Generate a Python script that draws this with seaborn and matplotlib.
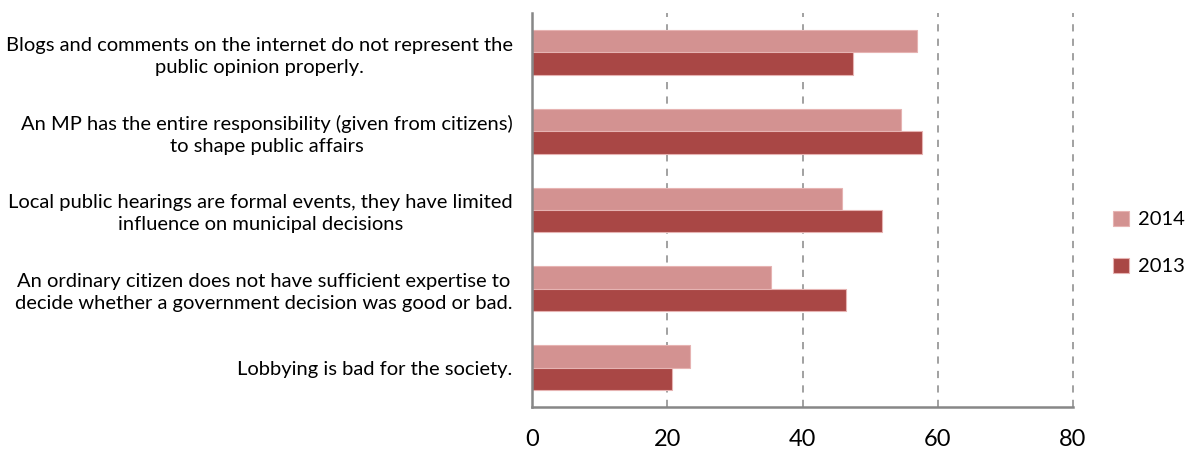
import matplotlib
matplotlib.use("Agg")
import matplotlib.pyplot as plt
import seaborn as sns
import pandas as pd

# Survey statements and share of respondents agreeing (%)
statements = [
    "Blogs and comments on the internet do not represent the\npublic opinion properly.",
    "An MP has the entire responsibility (given from citizens)\nto shape public affairs",
    "Local public hearings are formal events, they have limited\ninfluence on municipal decisions",
    "An ordinary citizen does not have sufficient expertise to\ndecide whether a government decision was good or bad.",
    "Lobbying is bad for the society.",
]
values_2014 = [56.9, 54.6, 45.8, 35.3, 23.3]
values_2013 = [47.4, 57.6, 51.7, 46.4, 20.7]
years = ["2014", "2013"]
x_ticks = [0, 20, 40, 60, 80]

df = pd.DataFrame({
    "statement": statements * 2,
    "value": values_2014 + values_2013,
    "year": [years[0]] * len(statements) + [years[1]] * len(statements),
})

sns.set_style("white")
plt.rcParams["font.family"] = ["Lato", "DejaVu Sans"]
plt.rcParams["text.color"] = "black"
plt.rcParams["xtick.color"] = "black"
plt.rcParams["ytick.color"] = "black"

fig = plt.figure(figsize=(11.87, 4.54), dpi=100)
ax = fig.add_axes([0.4482, 0.1035, 0.4558, 0.8679])

palette = {"2014": "#D39291", "2013": "#A94745"}
sns.barplot(data=df, y="statement", x="value", hue="year", hue_order=years,
            order=statements, palette=palette, orient="h", width=0.57,
            edgecolor="#E6B3B2", linewidth=0.8, saturation=1, ax=ax)

ax.set_xlim(0, 80)
ax.set_ylim(len(statements) - 0.5, -0.5)
ax.set_xticks(x_ticks)
ax.set_xticklabels([str(t) for t in x_ticks], fontsize=17)
ax.tick_params(axis="x", length=0, pad=16)
ax.tick_params(axis="y", length=0, pad=14)
for lbl in ax.get_yticklabels():
    lbl.set_fontsize(14.5)
    lbl.set_multialignment("center")
    lbl.set_linespacing(1.35)

for t in x_ticks[1:]:
    ax.axvline(t, color="#9A9A9A", linestyle=(0, (4, 4)), linewidth=1.3,
               zorder=0, clip_on=False)

for side in ["top", "right"]:
    ax.spines[side].set_visible(False)
for side in ["left", "bottom"]:
    ax.spines[side].set_color("#878787")
    ax.spines[side].set_linewidth(1.8)

ax.set_xlabel("")
ax.set_ylabel("")
ax.legend(loc="center left", bbox_to_anchor=(1.04, 0.416), frameon=False,
          fontsize=14.5, handlelength=0.8, handleheight=0.8, handletextpad=0.45,
          labelspacing=1.45)

fig.savefig("out.png", dpi=100)
